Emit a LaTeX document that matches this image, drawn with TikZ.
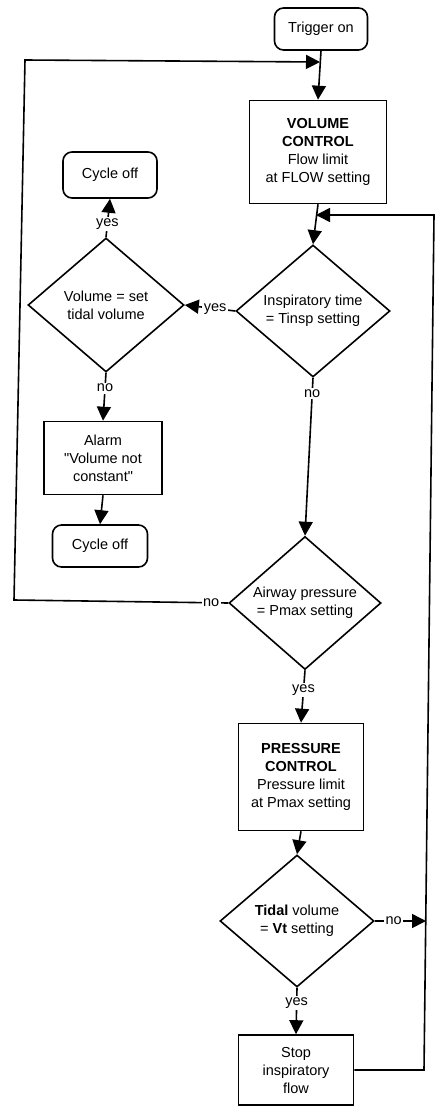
\documentclass[tikz,border=0pt]{standalone}
\usepackage{fontspec}
\setmainfont{Liberation Sans}
\newfontfamily\plainq{Liberation Sans}
\usetikzlibrary{shapes.geometric,arrows.meta}
\begin{document}
\begin{tikzpicture}[x=1pt,y=-1pt,
  line width=1.6pt,
  every node/.style={font=\fontsize{14.5}{18}\selectfont, align=center},
  box/.style={draw, rectangle, inner sep=0pt},
  term/.style={draw, rounded corners=9pt, inner sep=0pt},
  dec/.style={draw, diamond, aspect=1.17, inner sep=0pt},
  lbl/.style={fill=white, inner sep=1.5pt},
  arr/.style={-{Triangle[length=14pt,width=14pt]}},
]
\useasboundingbox (0,0) rectangle (435,1108);

% nodes
\node[term, minimum width=93pt, minimum height=42pt] (trig) at (321,29) {Trigger on};
\node[box, minimum width=137pt, minimum height=103pt] (vc) at (318,152)
  {\textbf{VOLUME}\\\textbf{CONTROL}\\Flow limit\\at FLOW setting};
\node[dec, minimum width=154pt, minimum height=132pt] (insp) at (313,311)
  {Inspiratory time\\= Tinsp setting};
\node[dec, minimum width=156pt, minimum height=134pt] (vol) at (106,305)
  {Volume = set\\tidal volume};
\node[term, minimum width=94pt, minimum height=46pt] (cyc1) at (110,175) {Cycle off};
\node[box, minimum width=118pt, minimum height=73pt] (alarm) at (103,458)
  {Alarm\\{\plainq"}Volume not\\constant{\plainq"}};
\node[term, minimum width=95pt, minimum height=42pt] (cyc2) at (100,546) {Cycle off};
\node[dec, minimum width=152pt, minimum height=133pt] (air) at (305,603)
  {Airway pressure\\= Pmax setting};
\node[box, minimum width=125pt, minimum height=107pt] (press) at (301,777)
  {\textbf{PRESSURE}\\\textbf{CONTROL}\\Pressure limit\\at Pmax setting};
\node[dec, minimum width=154pt, minimum height=132pt] (tid) at (297,921)
  {\textbf{Tidal} volume\\= \textbf{Vt} setting};
\node[box, minimum width=115pt, minimum height=70pt] (stop) at (296,1070)
  {Stop\\inspiratory\\flow};

% junction coordinates
\coordinate (jt) at (320,62);
\coordinate (jr) at (316,215);
\coordinate (lt) at (25,60);
\coordinate (lb) at (14,600);
\coordinate (rt) at (434,215);
\coordinate (rb) at (424,1070);
\coordinate (rn) at (426,921);

% connectors
\draw[arr] (trig.south) -- (vc.north);
\draw[arr] (vc.south) -- (insp.north);
\draw[arr] (insp.west) -- node[lbl, pos=0.4] {yes} (vol.east);
\draw[arr] (vol.north) -- node[lbl, pos=0.35] {yes} (cyc1.south);
\draw[arr] (vol.south) -- node[lbl, pos=0.32] {no} (alarm.north);
\draw[arr] (alarm.south) -- (cyc2.north);
\draw[arr] (insp.south) -- node[lbl, pos=0.1] {no} (air.north);
\draw[arr] (air.west) -- node[lbl, pos=0.08] {no} (lb) -- (lt) -- (jt);
\draw[arr] (air.south) -- node[lbl, pos=0.37] {yes} (press.north);
\draw[arr] (press.south) -- (tid.north);
\draw[arr] (tid.east) -- node[lbl, pos=0.37] {no} (rn);
\draw[arr] (tid.south) -- node[lbl, pos=0.33] {yes} (stop.north);
\draw[arr] (stop.east) -- (rb) -- (rt) -- (jr);
\end{tikzpicture}
\end{document}
